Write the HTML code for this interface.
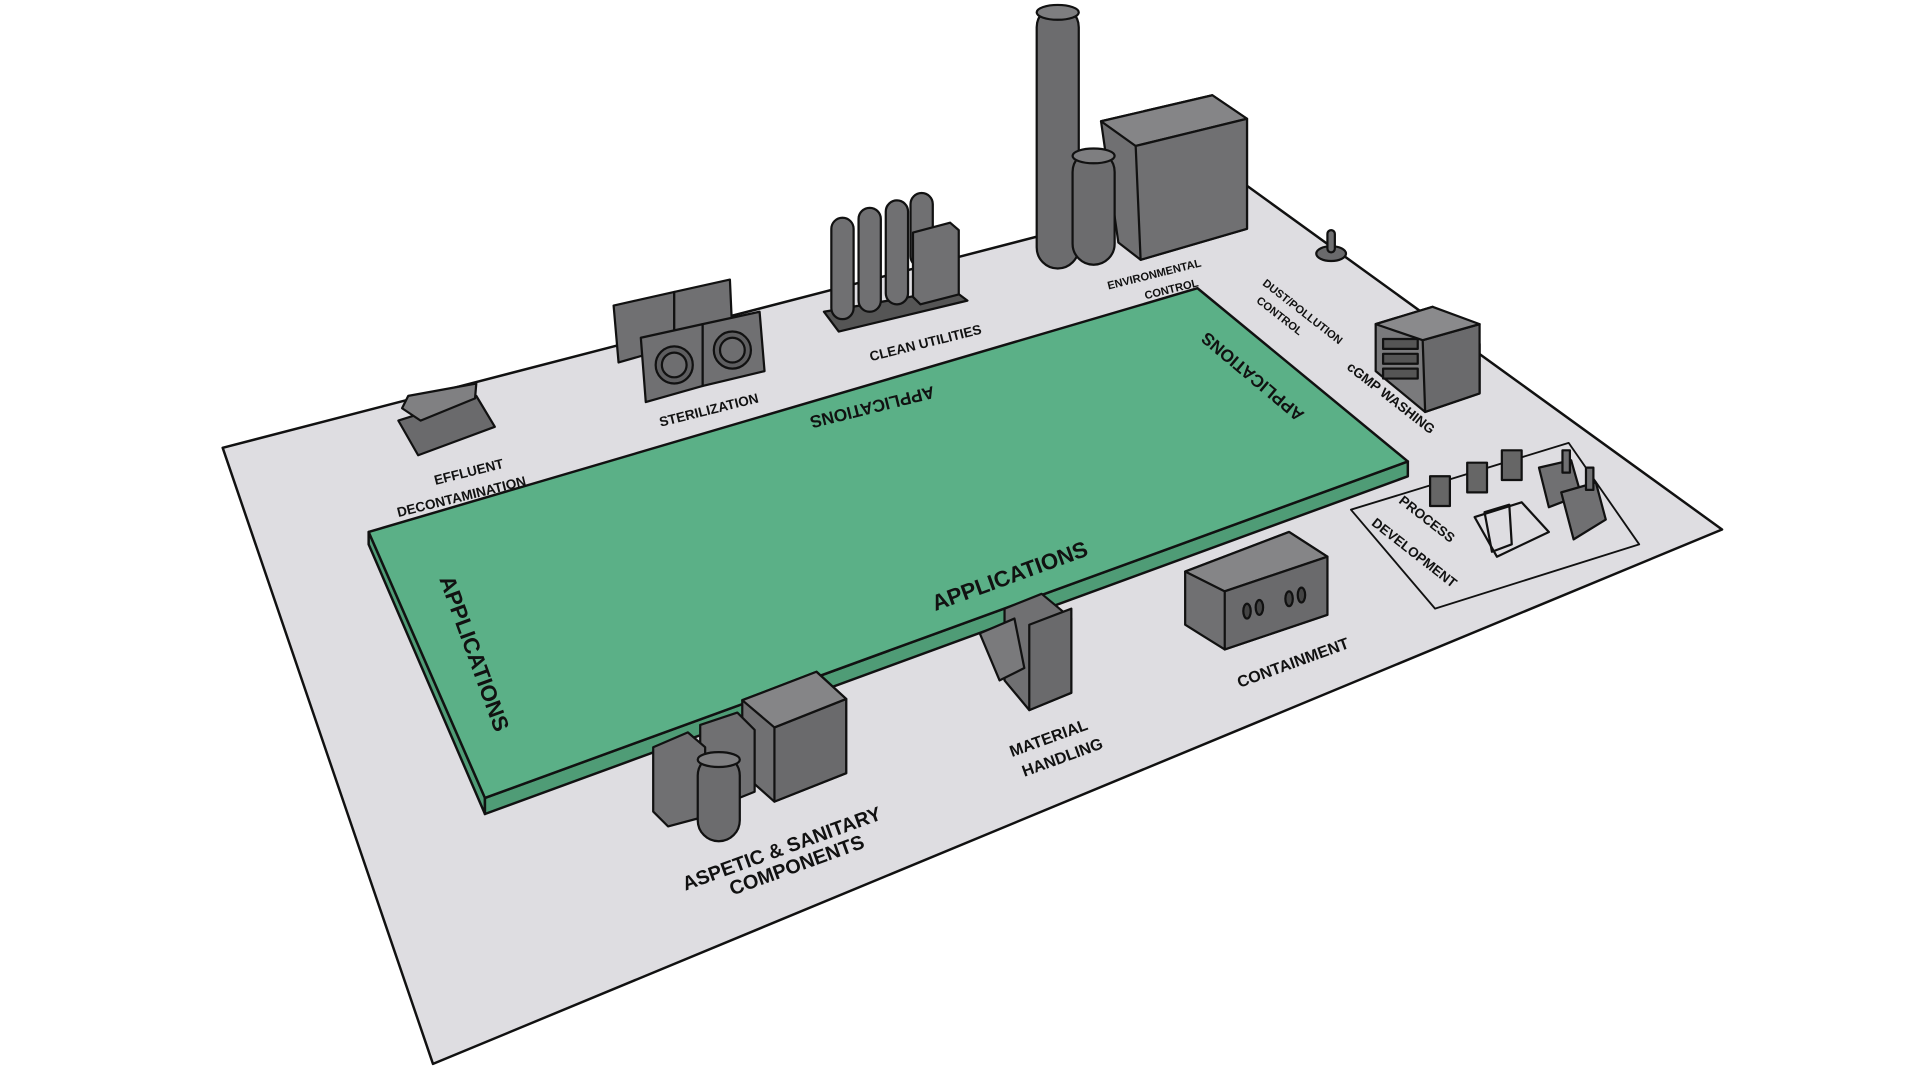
<!DOCTYPE html>
<html><head><meta charset="utf-8"><style>
html,body{margin:0;padding:0;background:#fff;width:1920px;height:1080px;overflow:hidden}
svg{display:block}
text{font-family:"Liberation Sans",sans-serif;font-weight:bold;fill:#111}
</style></head><body>
<svg width="1920" height="1080" viewBox="0 0 1552 873" xmlns="http://www.w3.org/2000/svg">
<g stroke="#111" stroke-width="2" stroke-linejoin="round">
<!-- platform -->
<polygon points="180,362 1005,148 1392,428 350,860" fill="#dedde1"/>
<!-- green slab -->
<polygon points="298,430 298,440 392,658 392,645" fill="#4f9c76"/>
<polygon points="392,645 1138,373 1138,385 392,658" fill="#4f9c76"/>
<polygon points="298,430 968,233 1138,373 392,645" fill="#5bb087"/>
<!-- process dev box -->
<polygon points="1092,412 1268,358 1325,440 1160,492" fill="none" stroke-width="1.5"/>
</g>
<g stroke="#111" stroke-width="1.8" stroke-linejoin="round" fill="#707072">
<!-- effluent -->
<polygon points="322,340 385,320 400,345 338,368" fill="#6a6a6c"/>
<polygon points="325,330 330,320 385,310 384,322 340,340" fill="#808082"/>
<!-- sterilization -->
<polygon points="496,247 545,236 545,280 500,293"/>
<polygon points="545,236 590,226 592,270 545,280"/>
<polygon points="518,273 568,262 568,312 522,325"/>
<polygon points="568,262 614,252 618,300 568,312"/>
<circle cx="545" cy="295" r="15" fill="#5e5e60"/><circle cx="545" cy="295" r="10" fill="#6e6e70"/>
<circle cx="592" cy="283" r="15" fill="#5e5e60"/><circle cx="592" cy="283" r="10" fill="#6e6e70"/>
<!-- clean utilities -->
<polygon points="666,252 770,234 782,243 678,268" fill="#555"/>
<rect x="672" y="176" width="18" height="82" rx="9"/>
<rect x="694" y="168" width="18" height="84" rx="9"/>
<rect x="716" y="162" width="18" height="84" rx="9"/>
<rect x="736" y="156" width="18" height="60" rx="9"/>
<polygon points="738,188 768,180 775,186 775,238 744,246 738,240"/>
<!-- tall chimney -->
<rect x="838" y="5" width="34" height="212" rx="17" fill="#6c6c6e"/>
<ellipse cx="855" cy="10" rx="17" ry="6" fill="#7e7e80"/>
<!-- environmental building -->
<polygon points="890,98 980,77 1008,96 1008,185 922,210 904,196"/>
<polygon points="890,98 980,77 1008,96 918,118" fill="#858587"/>
<polygon points="918,118 1008,96 1008,185 922,210" fill="#707072"/>
<rect x="867" y="122" width="34" height="92" rx="17" fill="#6c6c6e"/>
<ellipse cx="884" cy="126" rx="17" ry="6" fill="#7e7e80"/>
<!-- small knob -->
<ellipse cx="1076" cy="205" rx="12" ry="6" fill="#6a6a6c"/>
<rect x="1073" y="186" width="6" height="18" rx="3"/>
<!-- washing cabinet -->
<polygon points="1112,262 1158,248 1196,278 1196,318 1152,333 1112,300" fill="#7a7a7c"/>
<polygon points="1150,275 1196,262 1196,318 1152,333" fill="#6a6a6c"/>
<polygon points="1112,262 1158,248 1196,262 1150,275" fill="#8a8a8c"/>
<rect x="1118" y="274" width="28" height="8" fill="#555"/><rect x="1118" y="286" width="28" height="8" fill="#555"/><rect x="1118" y="298" width="28" height="8" fill="#555"/>
<!-- process dev items -->
<rect x="1156" y="385" width="16" height="24" fill="#666"/>
<rect x="1186" y="374" width="16" height="24" fill="#666"/>
<rect x="1214" y="364" width="16" height="24" fill="#666"/>
<polygon points="1244,378 1270,372 1278,400 1252,410"/>
<polygon points="1262,398 1290,390 1298,420 1272,436"/>
<rect x="1263" y="364" width="6" height="18"/><rect x="1282" y="378" width="6" height="18"/>
<polygon points="1192,418 1230,406 1252,430 1210,450" fill="none"/>
<polygon points="1200,414 1220,408 1222,440 1206,446" fill="none"/>
<!-- containment -->
<polygon points="958,462 1042,430 1073,450 1073,497 990,525 958,505"/>
<polygon points="958,462 1042,430 1073,450 990,478" fill="#858587"/>
<polygon points="990,478 1073,450 1073,497 990,525" fill="#6a6a6c"/>
<ellipse cx="1008" cy="494" rx="3" ry="6" fill="#444"/><ellipse cx="1018" cy="491" rx="3" ry="6" fill="#444"/>
<ellipse cx="1042" cy="484" rx="3" ry="6" fill="#444"/><ellipse cx="1052" cy="481" rx="3" ry="6" fill="#444"/>
<!-- material handling -->
<polygon points="812,492 842,480 866,500 866,560 832,574 812,550"/>
<polygon points="832,505 866,492 866,560 832,574" fill="#6a6a6c"/>
<polygon points="792,512 820,500 828,540 808,550" fill="#7a7a7c"/>
<!-- aseptic -->
<polygon points="600,566 660,543 684,565 684,625 626,648 600,625"/>
<polygon points="626,588 684,565 684,625 626,648" fill="#6a6a6c"/>
<polygon points="600,566 660,543 684,565 626,588" fill="#858587"/>
<polygon points="566,586 596,576 610,590 610,640 580,652 566,640"/>
<polygon points="528,604 556,592 570,604 570,660 540,668 528,656"/>
<rect x="564" y="610" width="34" height="70" rx="17" fill="#6c6c6e"/>
<ellipse cx="581" cy="614" rx="17" ry="6" fill="#7e7e80"/>
</g>
<!-- labels -->
<g font-size="11">
<text transform="translate(352,392) rotate(-14)">EFFLUENT</text>
<text transform="translate(322,418) rotate(-14)">DECONTAMINATION</text>
<text transform="translate(534,345) rotate(-14)">STERILIZATION</text>
<text transform="translate(704,292) rotate(-14)">CLEAN UTILITIES</text>
<text font-size="9" transform="translate(896,234) rotate(-14)">ENVIRONMENTAL</text>
<text font-size="9" transform="translate(926,242) rotate(-14)">CONTROL</text>
<text font-size="9" transform="translate(1020,230) rotate(38)">DUST/POLLUTION</text>
<text font-size="9" transform="translate(1015,244) rotate(38)">CONTROL</text>
<text transform="translate(1088,298) rotate(38)">cGMP WASHING</text>
<text transform="translate(1130,406) rotate(38)">PROCESS</text>
<text transform="translate(1108,424) rotate(38)">DEVELOPMENT</text>
<text font-size="13" transform="translate(1002,556) rotate(-20)">CONTAINMENT</text>
<text font-size="13" transform="translate(818,612) rotate(-20)">MATERIAL</text>
<text font-size="13" transform="translate(828,628) rotate(-20)">HANDLING</text>
<text font-size="16" transform="translate(554,720) rotate(-20)">ASPETIC &amp; SANITARY</text>
<text font-size="16" transform="translate(592,724) rotate(-20)">COMPONENTS</text>
<text font-size="18" transform="translate(756,494) rotate(-20)">APPLICATIONS</text>
<text font-size="18" transform="translate(355,468) rotate(70)">APPLICATIONS</text>
<text font-size="14" transform="translate(754,312) rotate(166)">APPLICATIONS</text>
<text font-size="14" transform="translate(1055,334) rotate(-140)">APPLICATIONS</text>
</g>
</svg>
</body></html>
